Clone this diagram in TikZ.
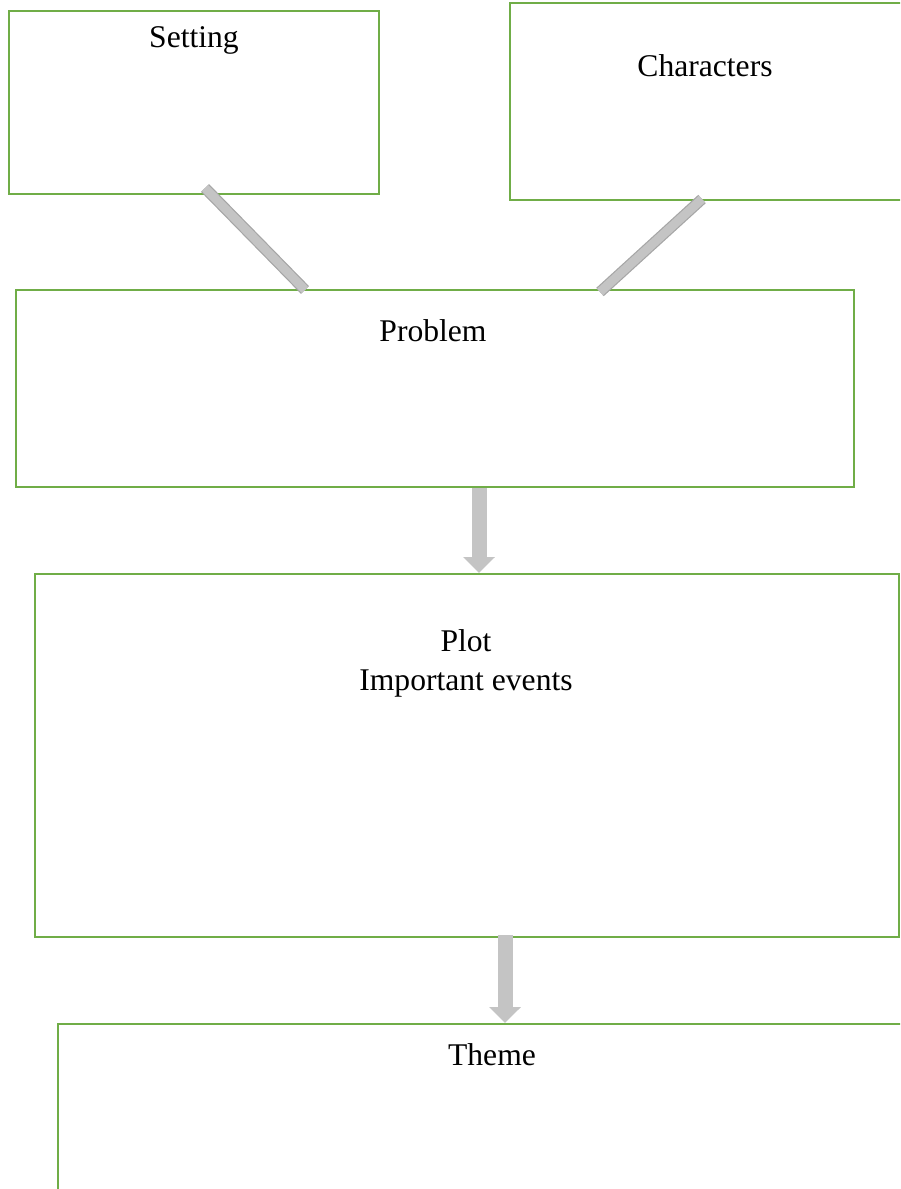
\documentclass[tikz,border=0pt]{standalone}
\usepackage{fontspec}
\setmainfont{Liberation Serif}
\usetikzlibrary{fit,arrows.meta}

\definecolor{boxgreen}{HTML}{70AD47}
\definecolor{conngray}{HTML}{A6A6A6}
\definecolor{connfill}{HTML}{C4C4C4}

\begin{document}
\begin{tikzpicture}[x=0.5pt, y=-0.5pt,
    box/.style={draw=boxgreen, line width=1pt, inner sep=0pt},
    txt/.style={font=\fontsize{15.8}{19.5}\selectfont, align=center, inner sep=0pt},
    bar/.style={draw=conngray, double=connfill, double distance=4.4pt, line width=0.6pt},
    blockarrow/.style={connfill, line width=7.5pt, -{Triangle[length=8pt, width=15.5pt]}}]
    % Page size
    \useasboundingbox (0,0) rectangle (900,1189);
    \clip (0,0) rectangle (900,1189);

    % Draw boxes
    \node[box, fit={(9,11) (379,194)}] (setting) {};
    \node[box, fit={(510,3) (920,200)}] (characters) {};
    \node[box, fit={(16,290) (854,487)}] (problem) {};
    \node[box, fit={(35,574) (899,937)}] (plot) {};
    \node[box, fit={(58,1024) (940,1260)}] (theme) {};

    % Box titles
    \node[txt] (settingtxt) at (194,40) {Setting};
    \node[txt] (characterstxt) at (705,66) {Characters};
    \node[txt] (problemtxt) at (433,331) {Problem};
    \node[txt] (plottxt) at (466,663) {Plot\\Important events};
    \node[txt] (themetxt) at (492,1055) {Theme};

    % Connectors
    \draw[bar] ([xshift=5.5pt,yshift=3.5pt]setting.south) -- ([xshift=-65pt,yshift=-0.5pt]problem.north);
    \draw[bar] ([xshift=-6.5pt,yshift=1pt]characters.south) -- ([xshift=82.5pt,yshift=-1.5pt]problem.north);
    \draw[blockarrow] ([xshift=22pt]problem.south) -- ([xshift=22pt]problem.south |- plot.north);
    \draw[blockarrow] ([xshift=19pt,yshift=1.5pt]plot.south) -- ([xshift=19pt]plot.south |- theme.north);
\end{tikzpicture}
\end{document}
